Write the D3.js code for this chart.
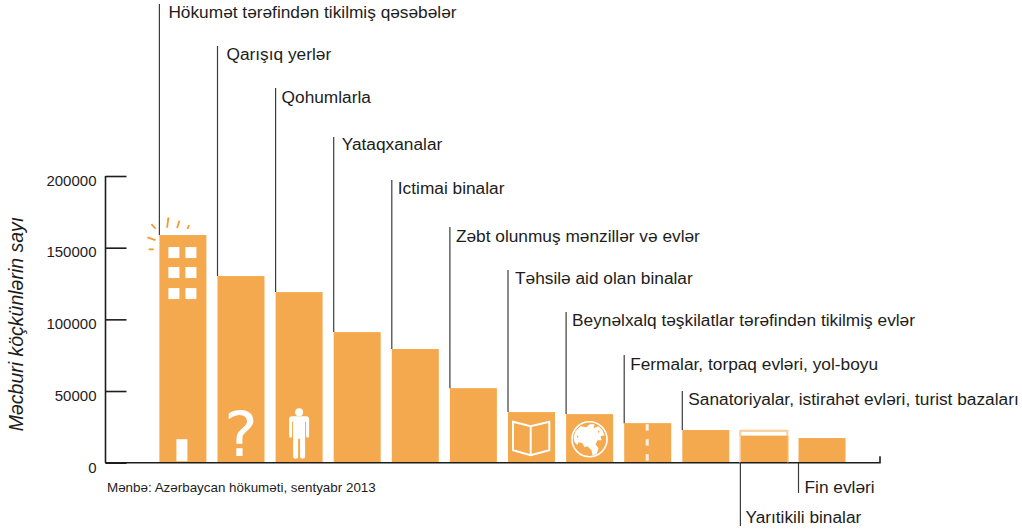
<!DOCTYPE html>
<html>
<head>
<meta charset="utf-8">
<script src="https://cdn.jsdelivr.net/npm/d3@7"></script>
<style>
  html, body { margin: 0; padding: 0; background: #fff; }
  text { font-family: "Liberation Sans", Arial, sans-serif; fill: #1d1d1b; }
</style>
</head>
<body>
<div id="chart"></div>
<script>
// Values
const categories = [
  "Hökumət tərəfindən tikilmiş qəsəbələr",
  "Qarışıq yerlər",
  "Qohumlarla",
  "Yataqxanalar",
  "Ictimai binalar",
  "Zəbt olunmuş mənzillər və evlər",
  "Təhsilə aid olan binalar",
  "Beynəlxalq təşkilatlar tərəfindən tikilmiş evlər",
  "Fermalar, torpaq evləri, yol-boyu",
  "Sanatoriyalar, istirahət evləri, turist bazaları",
  "Yarıtikili binalar",
  "Fin evləri"
];
const values = [158800, 130200, 119000, 91100, 79300, 52000, 35300, 33900, 27600, 22800, 22900, 17200];
const yTicks = [0, 50000, 100000, 150000, 200000];
const yTitle = "Məcburi köçkünlərin sayı";
const source = "Mənbə: Azərbaycan hökuməti, sentyabr 2013";

const width = 1022, height = 531;
const barColor = "#f4a94e";
const sparkColor = "#f39a2b";

const svg = d3.select("#chart").append("svg")
    .attr("width", width)
    .attr("height", height)
    .style("display", "block");

const xScale = d3.scaleBand()
    .domain(categories)
    .range([159.4 - 5.55, 159.4 - 5.55 + 58.1 * categories.length])
    .paddingInner(11.1 / 58.1)
    .paddingOuter(5.55 / 58.1);

const yScale = d3.scaleLinear().domain([0, 200000]).range([462.7, 176]);

// label placement, the last two hang under the axis
const labelY = [18, 60, 103, 150, 194, 242, 284, 326, 370, 405, 523, 493];
const labelDx = [9, 9, 6, 8, 6, 6, 7, 6, 6, 6, 5, 6];
const lineEnd = [4, 46, 88, 137, 180, 227, 270, 312, 355, 391, 526, 493];
const below = d => categories.indexOf(d) >= 10;

// Bars
svg.selectAll(".bar")
    .data(categories)
    .enter().append("rect")
    .attr("class", "bar")
    .attr("x", d => xScale(d))
    .attr("y", (d, i) => yScale(values[i]))
    .attr("width", xScale.bandwidth())
    .attr("height", (d, i) => yScale(0) - yScale(values[i]))
    .attr("fill", barColor);

// Leader lines
svg.selectAll(".leader")
    .data(categories)
    .enter().append("line")
    .attr("class", "leader")
    .attr("x1", d => xScale(d))
    .attr("x2", d => xScale(d))
    .attr("y1", (d, i) => below(d) ? yScale(0) : yScale(values[i]))
    .attr("y2", (d, i) => lineEnd[i])
    .attr("stroke", "#3c3c3b")
    .attr("stroke-width", 1.2);

svg.selectAll(".label")
    .data(categories)
    .enter().append("text")
    .attr("class", "label")
    .attr("x", (d, i) => xScale(d) + labelDx[i])
    .attr("y", (d, i) => labelY[i])
    .style("font-size", "17.3px")
    .text(d => d);

// Y axis
const yAxis = svg.append("g")
    .attr("transform", "translate(105.5,0)")
    .call(d3.axisLeft(yScale).tickValues(yTicks).tickFormat(d3.format("d")).tickSize(-21).tickPadding(10));
yAxis.selectAll(".tick line").attr("stroke", "#1d1d1b").attr("stroke-width", 1.6);
yAxis.select(".domain").attr("stroke", "#1d1d1b").attr("stroke-width", 1.6).attr("d", `M0,${yScale(200000)}V${yScale(0)}`);
yAxis.selectAll("text")
    .attr("x", -9)
    .attr("y", 4.5)
    .style("font-family", "'Liberation Sans', Arial, sans-serif")
    .style("font-size", "15px")
    .attr("fill", "#1d1d1b");

// X axis line with end tick
svg.append("path")
    .attr("d", `M105,${yScale(0)}H880V${yScale(0) - 6.5}`)
    .attr("fill", "none")
    .attr("stroke", "#1d1d1b")
    .attr("stroke-width", 1.6);

svg.append("text")
    .attr("transform", "translate(23,324) rotate(-90)")
    .attr("text-anchor", "middle")
    .style("font-size", "19.5px")
    .style("font-style", "italic")
    .text(yTitle);

svg.append("text")
    .attr("x", 107)
    .attr("y", 492)
    .style("font-size", "13.4px")
    .text(source);

// --- Pictograms inside the bars ---
const barX = i => xScale(categories[i]);
const axisY = yScale(0);
const white = "#fff";

// Building: windows, door, sparks
const b0 = svg.append("g").attr("transform", `translate(${barX(0)},${yScale(values[0])})`);
[9, 26].forEach(wx => [12, 32, 53].forEach(wy => {
  b0.append("rect").attr("x", wx).attr("y", wy).attr("width", 11).attr("height", 11).attr("fill", white);
}));
b0.append("rect").attr("x", 17).attr("y", axisY - yScale(values[0]) - 23.5).attr("width", 11).attr("height", 22).attr("fill", white);
[[-12, 2.3, -4, 5], [-10.7, 14.3, -5.7, 14.3], [-8, -11, -3.7, -6.3], [9, -17.7, 7.7, -7.3], [20, -14.3, 17.7, -7], [29.7, -10, 28, -6.3]]
  .forEach(s => b0.append("line")
    .attr("x1", s[0]).attr("y1", s[1]).attr("x2", s[2]).attr("y2", s[3])
    .attr("stroke", sparkColor).attr("stroke-width", 1.8));

// Question mark
svg.append("text")
    .attr("x", barX(1) + xScale.bandwidth() / 2)
    .attr("y", axisY - 6.5)
    .attr("text-anchor", "middle")
    .style("font-family", "'DejaVu Sans', sans-serif")
    .style("font-size", "63px")
    .style("fill", white)
    .text("?");

// Person
const p = svg.append("g").attr("transform", `translate(${barX(2) + xScale.bandwidth() / 2},${axisY})`).attr("fill", white);
p.append("circle").attr("cy", -50.5).attr("r", 4);
p.append("path").attr("d", "M-10,-44Q-10,-46.5 -7,-46.5H7Q10,-46.5 10,-44V-27Q10,-25 8.5,-25Q7,-25 7,-27V-41H6V-6Q6,-4 3.5,-4Q1,-4 1,-6V-24H-1V-6Q-1,-4 -3.5,-4Q-6,-4 -6,-6V-41H-7V-27Q-7,-25 -8.5,-25Q-10,-25 -10,-27Z");

// Open book
const bk = svg.append("g").attr("transform", `translate(${barX(6)},${axisY})`)
    .attr("fill", "none").attr("stroke", white).attr("stroke-width", 2);
bk.append("path").attr("d", "M5,-41L22.7,-36.5L41.3,-41V-12.5L22.7,-7.5L5,-12.5Z");
bk.append("path").attr("d", "M22.7,-36.5V-7.5");

// Globe
const g = svg.append("g").attr("transform", `translate(${barX(7) + 23.4},${axisY - 23.5})`);
g.append("circle").attr("r", 17.5).attr("fill", "none").attr("stroke", white).attr("stroke-width", 1.6);
g.append("path").attr("fill", white)
    .attr("d", "M-16,-2L-14,-8L-9,-13L-3,-12L0,-15L5,-15L4,-11L9,-13L13,-9L15,-4L11,-3L12,1L8,1L6,5L9,9L7,15L3,16L2,11L-2,7L-5,8L-7,4L-11,3L-12,6L-15,3Z");
g.append("path").attr("fill", barColor)
    .attr("d", "M-13,-4L-11,-3L-12,-1Z M8,-9L10,-8L9,-6Z");

// Road markings
[-38.5, -23.5, -8.5].forEach(my => {
  svg.append("rect")
    .attr("x", barX(8) + 21.5).attr("y", axisY + my)
    .attr("width", 3).attr("height", 6.5).attr("fill", white).attr("opacity", 0.85);
});

// Half-built: pale top edge, white strip, darker right edge
const h = svg.append("g").attr("transform", `translate(${barX(10)},${yScale(values[10])})`);
const hH = axisY - yScale(values[10]);
h.append("rect").attr("x", -1).attr("y", 0).attr("width", xScale.bandwidth() + 2).attr("height", 6).attr("fill", "#f9cf9f");
h.append("rect").attr("x", 1).attr("y", 2).attr("width", xScale.bandwidth() - 2).attr("height", 3.5).attr("fill", white);
h.append("rect").attr("x", -1).attr("y", 0).attr("width", 1).attr("height", hH).attr("fill", "#f9cf9f");
h.append("rect").attr("x", xScale.bandwidth()).attr("y", 6).attr("width", 1).attr("height", hH - 6).attr("fill", sparkColor);
</script>
</body>
</html>
